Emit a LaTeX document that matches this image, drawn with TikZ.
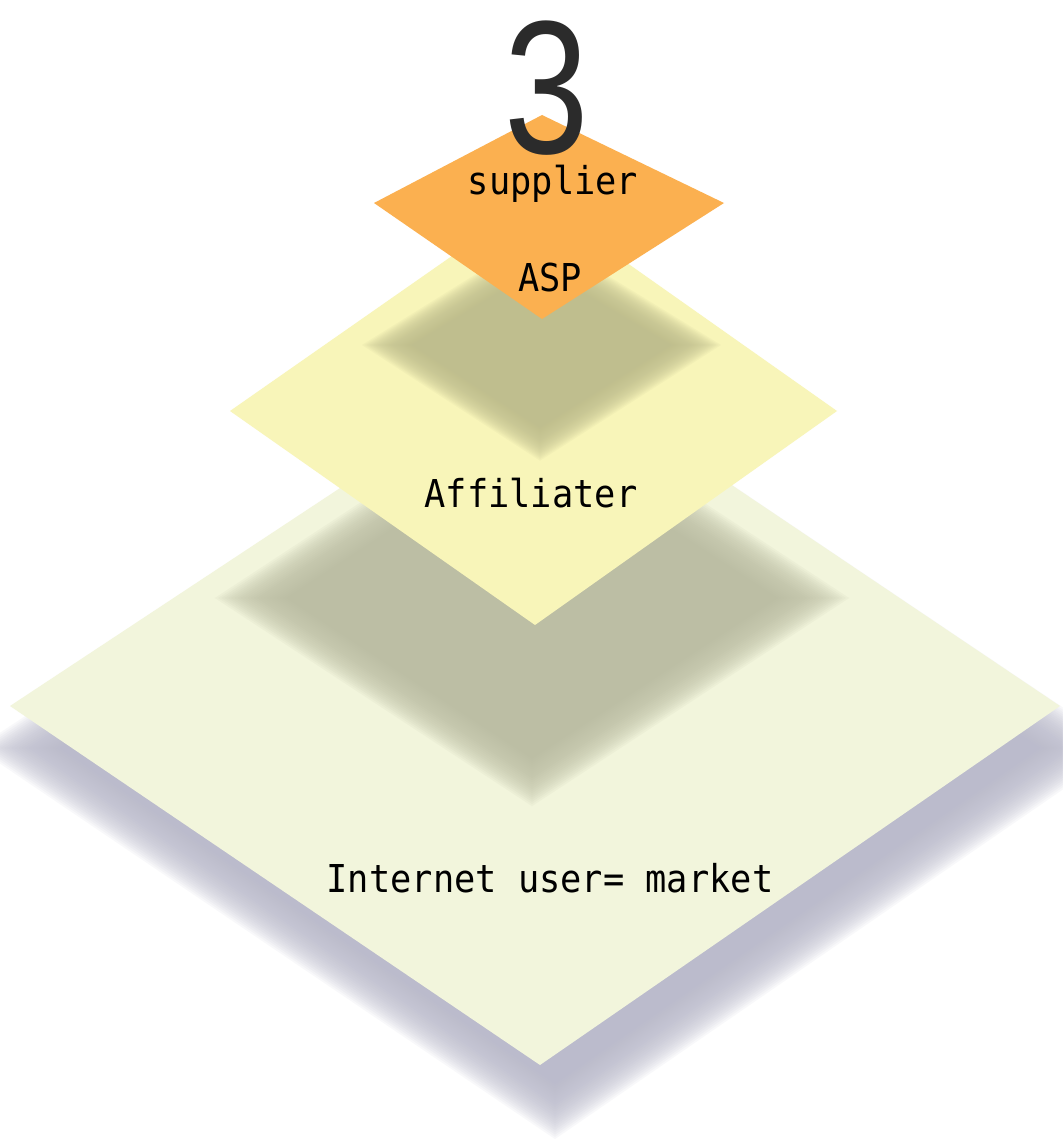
\documentclass[tikz,border=0pt]{standalone}
\usepackage{fontspec}
\newfontfamily\gothic[FakeStretch=0.92]{DejaVu Sans Mono}
\newfontfamily\digitfont{Liberation Sans}
\definecolor{marketfill}{HTML}{F2F5DC}
\definecolor{affilfill}{HTML}{F8F5B9}
\definecolor{supfill}{HTML}{FBB050}
\definecolor{shadowblue}{HTML}{BBBBCC}
\definecolor{shadowgray}{HTML}{BCBEA4}
\definecolor{shadowolive}{HTML}{BFBE8E}
\definecolor{digitgray}{HTML}{2B2B2B}
\tikzset{
  lbl/.style={inner sep=0pt, anchor=base, text=black,
    font=\gothic\fontsize{38.4}{40}\selectfont},
  bignum/.style={inner sep=0pt, anchor=base, text=digitgray, xscale=0.8,
    text height=136pt, text depth=0pt,
    font=\digitfont\fontsize{190}{190}\selectfont},
}
% soft (blurred) diamond: cx cy hl hr ht hb colour blur
\newcommand\softdia[8]{%
  \foreach \k in {-1,-0.933,...,1.01}{%
    \pgfmathsetmacro\dd{\k*#8}%
    \fill[#7, fill opacity=0.095]
      ({#1-#3-1.5*(\dd)},#2) -- (#1,{#2-#5-(\dd)}) --
      ({#1+#4+1.5*(\dd)},#2) -- (#1,{#2+#6+(\dd)}) -- cycle;
  }}
% solid diamond: cx cy hl hr ht hb colour
\newcommand\soliddia[7]{%
  \fill[#7] ({#1-#3},#2) -- (#1,{#2-#5}) -- ({#1+#4},#2) -- (#1,{#2+#6}) -- cycle;}
\begin{document}
\begin{tikzpicture}[x=1pt,y=-1pt]
\useasboundingbox (0,0) rectangle (1062,1139);
\fill[white] (0,0) rectangle (1062,1139);
% bottom layer: shadow and plate
\softdia{555}{748}{530}{520}{350}{359}{shadowblue}{34}
\soliddia{540}{706}{530}{520}{350}{359}{marketfill}
% shadow of the middle plate
\softdia{532}{598}{272}{272}{178}{178}{shadowgray}{32}
% middle plate
\soliddia{535}{411}{305}{302}{213}{214}{affilfill}
% shadow of the top plate
\softdia{540}{345}{147}{150}{90}{95}{shadowolive}{22}
% top plate
\soliddia{542}{203}{168}{182}{88}{116}{supfill}
% texts
\node[bignum] (n3) at (547,154) {3};
\node[lbl] (supplier) at (553,195) {supplier};
\node[lbl] (asp) at (550,291) {ASP};
\node[lbl] (affil) at (531,507) {Affiliater};
\node[lbl] (market) at (550,892) {Internet user= market};
\end{tikzpicture}
\end{document}
